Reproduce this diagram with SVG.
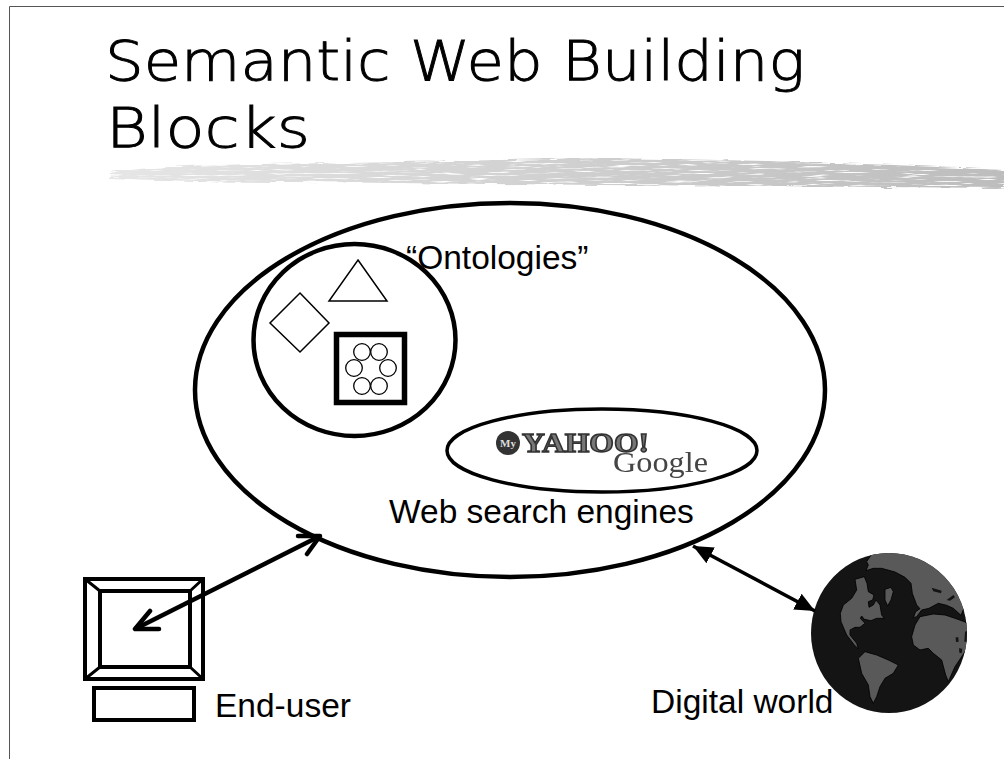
<svg xmlns="http://www.w3.org/2000/svg" width="1004" height="759" viewBox="0 0 1004 759">
<style>
.t{font-family:"Liberation Sans",Arial,sans-serif;font-size:33.500px;fill:#000}
.h{font-family:"DejaVu Sans",sans-serif;font-weight:200;font-size:55px;fill:#000;stroke:#000;stroke-width:.9}
.o{fill:#fff;stroke:#000;stroke-width:4.500}
.f{fill:#fff;stroke:#000;stroke-width:1.500}
.c{fill:#fff;stroke:#000;stroke-width:1.300}
.l{fill:#595959;stroke:#000;stroke-width:2.500;stroke-linejoin:round}
.d{fill:#141414}
</style>
<defs>
<marker id="ah" markerUnits="userSpaceOnUse" markerWidth="22" markerHeight="22" refX="20" refY="11" orient="auto-start-reverse"><path d="M0 2L20 11L0 20Z" fill="#000"/></marker>
<linearGradient id="br" x1="0" x2="1"><stop offset="0" stop-color="#e6e6e6"/><stop offset=".5" stop-color="#d0d0d0"/><stop offset="1" stop-color="#bdbdbd"/></linearGradient>
<filter id="rough" x="-2%" y="-40%" width="104%" height="180%">
<feTurbulence type="fractalNoise" baseFrequency=".03 .6" numOctaves="3" seed="4" result="n"/>
<feDisplacementMap in="SourceGraphic" in2="n" scale="5" xChannelSelector="R" yChannelSelector="G" result="dp"/>
<feColorMatrix in="n" type="matrix" values="0 0 0 0 0 0 0 0 0 0 0 0 0 0 0 5 0 0 0 -1.100" result="a"/>
<feComposite in="dp" in2="a" operator="in"/>
</filter>
<filter id="soft"><feGaussianBlur stdDeviation=".6"/></filter>
<clipPath id="gc"><ellipse cx="889" cy="633" rx="78" ry="80"/></clipPath>
</defs>
<rect width="1004" height="759" fill="#fff"/>
<path d="M9.500 759V6.500H1004" fill="none" stroke="#555" stroke-width="1"/>
<g id="title">
<text class="h" x="105" y="80" textLength="700" lengthAdjust="spacingAndGlyphs">Semantic Web Building</text>
<text class="h" x="106" y="147" textLength="204" lengthAdjust="spacingAndGlyphs">Blocks</text>
<path d="M110 173Q150 164 350 163L600 158Q800 160 1004 170V188Q800 186 600 185L300 182Q180 182 110 178Z" fill="url(#br)" filter="url(#rough)"/>
</g>
<g id="web"><ellipse class="o" cx="510" cy="390" rx="315" ry="187"/></g>
<g id="ontologies">
<ellipse class="o" cx="354.500" cy="340" rx="101" ry="96"/>
<path class="f" d="M358 260L387 301H329Z"/>
<path class="f" d="M300 293L329 323L300 352L270 323Z"/>
<rect x="336.500" y="334.500" width="68" height="68" fill="#fff" stroke="#000" stroke-width="5.500"/>
<circle class="c" cx="362" cy="352" r="8.300"/><circle class="c" cx="379" cy="352" r="8.300"/>
<circle class="c" cx="354" cy="368" r="8.300"/><circle class="c" cx="388" cy="368" r="8.300"/>
<circle class="c" cx="362" cy="386" r="8.300"/><circle class="c" cx="379" cy="386" r="8.300"/>
<text class="t" x="406" y="269">“Ontologies”</text>
</g>
<g id="engines">
<ellipse cx="602" cy="450.500" rx="155" ry="41.500" fill="#fff" stroke="#000" stroke-width="3.500"/>
<circle cx="508" cy="443" r="12" fill="#333"/>
<text x="508" y="447" font-family="Liberation Serif,serif" font-weight="700" font-size="11" fill="#ddd" text-anchor="middle">My</text>
<text x="522" y="452" font-family="Liberation Serif,serif" font-weight="700" font-size="27" fill="#777" stroke="#333" stroke-width="1.400" textLength="127" lengthAdjust="spacingAndGlyphs" filter="url(#soft)">YAHOO!</text>
<text x="613" y="472" font-family="Liberation Serif,serif" font-size="30" fill="#444" textLength="95" lengthAdjust="spacingAndGlyphs" filter="url(#soft)">Google</text>
<text class="t" x="389" y="523">Web search engines</text>
</g>
<g id="end-user">
<rect x="85" y="579" width="118" height="100" fill="#fff" stroke="#000" stroke-width="4"/>
<rect x="100" y="591" width="90" height="76" fill="none" stroke="#000" stroke-width="4"/>
<path d="M85 579L100 591M203 579L190 591M85 679L100 667M203 679L190 667" stroke="#000" stroke-width="3"/>
<rect x="94" y="688" width="100" height="32" fill="#fff" stroke="#000" stroke-width="4"/>
<text class="t" x="215" y="717">End-user</text>
</g>
<g id="globe">
<ellipse cx="889" cy="633" rx="78" ry="80" fill="#141414"/>
<g clip-path="url(#gc)"><g transform="translate(805 550) scale(.3333)">
<path class="l" d="M185 35L205 5L310 -10L430 40L510 170L478 172L468 196L445 175L425 166L400 160L372 175L350 180L335 200L325 203L332 185L345 176L335 165L322 130L318 100L300 82L270 66L230 55L205 55L183 62L190 45Z"/>
<path class="l" d="M150 88L178 80L186 100L190 125L207 135L203 150L190 155L192 172L205 165L213 150L225 165L230 195L238 205L215 205L198 212L178 208L170 198L166 205L180 220L165 232L150 232L135 240L135 255L155 280L160 297L148 285L125 255L108 215L106 190L115 165L140 145L155 120Z"/>
<path class="l" d="M240 118L258 112L265 125L258 150L248 168L240 150Z"/>
<path class="l" d="M320 260L330 225L345 200L385 192L420 195L450 205L478 215L500 230L490 290L450 350L430 395L422 375L410 330L385 310L370 295L345 300L325 285Z"/>
<path class="l" d="M160 325L180 305L215 315L250 330L280 345L265 370L240 385L225 410L215 440L205 460L195 440L190 405L170 370Z"/>
<path class="d" d="M380 113L410 122L408 130L385 124ZM425 150L445 135L450 142L435 152ZM135 240Q150 232 165 240L165 250L150 258L140 255ZM452 262L460 262L461 275L453 276ZM462 295L472 296L470 310L463 308ZM480 245L495 240L495 275L478 275ZM310 120L318 125L316 135L310 130ZM310 165L325 170L322 180L312 178Z"/>
</g></g>
</g>
<g id="digital"><text class="t" x="651" y="712.500">Digital world</text></g>
<g id="connectors" fill="none" stroke="#000">
<path d="M135 629L320 536" stroke-width="4.500"/>
<path d="M150 611L135 629L159 629M298 536L320 536L307 554" stroke-width="4.500" stroke-linecap="round" stroke-linejoin="round"/>
<path d="M693 546L815 611" stroke-width="3.500" marker-start="url(#ah)" marker-end="url(#ah)"/>
</g>
</svg>
